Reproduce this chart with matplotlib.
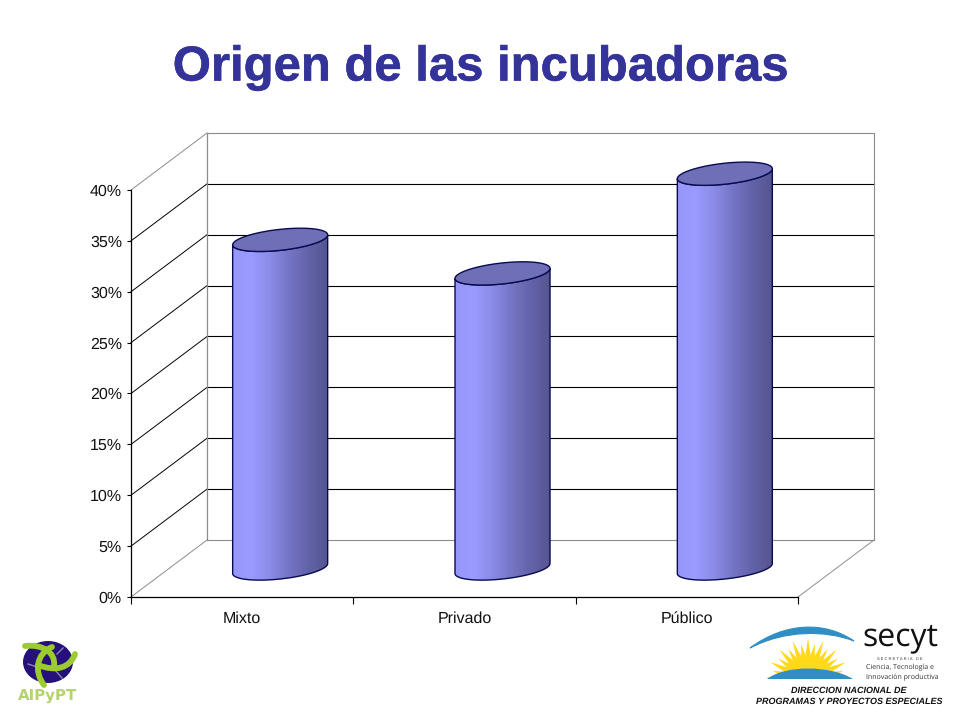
import numpy as np
import matplotlib
matplotlib.use('Agg')
import matplotlib.pyplot as plt
import matplotlib.patheffects as pe
from matplotlib.colors import LinearSegmentedColormap
from matplotlib.patches import Ellipse, Polygon, PathPatch
from matplotlib.path import Path

categories = ['Mixto', 'Privado', 'Público']
values = [32.3, 29.0, 38.8]
y_ticks = [0, 5, 10, 15, 20, 25, 30, 35, 40]
y_labels = ['0%', '5%', '10%', '15%', '20%', '25%', '30%', '35%', '40%']

plt.rcParams['text.hinting'] = 'no_hinting'
plt.rcParams['text.hinting_factor'] = 1

W, H = 960, 720
FONT = 'Liberation Sans'
TITLE_COLOR = '#333399'

fig = plt.figure(figsize=(W / 100, H / 100), dpi=100, facecolor='white')

# page level axes in pixels, for title and logos
page = fig.add_axes([0, 0, 1, 1])
page.set_xlim(0, W)
page.set_ylim(H, 0)
page.axis('off')

page.text(480.5, 68, 'Origen de las incubadoras', ha='center', va='center',
          family=FONT, weight='bold', size=35.3, color=TITLE_COLOR,
          path_effects=[pe.withStroke(linewidth=0.4, foreground=TITLE_COLOR)])

# chart axes sit on the front plane of the fake 3d box
left, right, top, bottom = 131, 798, 190, 597
ax = fig.add_axes([left / W, 1 - bottom / H, (right - left) / W, (bottom - top) / H])
ax.patch.set_alpha(0)
ax.set_xlim(0, 3)
ax.set_ylim(0, 40)

# depth of the box in data units
dx = 76 / ((right - left) / 3)
dy = 57 / ((bottom - top) / 40)

for s in ['top', 'right']:
    ax.spines[s].set_visible(False)
for s in ['left', 'bottom']:
    ax.spines[s].set_linewidth(0.9)
    ax.spines[s].set_color('black')

ax.set_yticks(y_ticks)
ax.set_yticklabels(y_labels, family=FONT, size=11.6, color='#111111')
ax.set_xticks([0, 1, 2, 3])
ax.set_xticklabels([])
ax.tick_params(axis='y', length=3, width=0.8, pad=3.5)
ax.tick_params(axis='x', length=5, width=0.8)
for i, c in enumerate(categories):
    ax.annotate(c, (i + 0.5, 0), xytext=(0, -10.2), textcoords='offset points',
                ha='center', va='top', family=FONT, size=11.6, color='#111111')

# walls and floor
GRAY = '#8c8c8c'
for v in y_ticks:
    edge = v in (0, 40)
    col = GRAY if edge else 'black'
    ax.plot([0, dx], [v, v + dy], color=col, lw=0.7, clip_on=False, zorder=1)
    ax.plot([dx, 3 + dx], [v + dy, v + dy], color=col, lw=0.8,
            clip_on=False, zorder=1)
ax.plot([dx, dx], [dy, 40 + dy], color=GRAY, lw=0.9, clip_on=False, zorder=1)
ax.plot([3 + dx, 3 + dx], [dy, 40 + dy], color=GRAY, lw=0.8, clip_on=False, zorder=1)
ax.plot([3, 3 + dx], [0, dy], color=GRAY, lw=0.7, clip_on=False, zorder=1)

# cylinders
cyl_cmap = LinearSegmentedColormap.from_list(
    'cyl', ['#9797fb', '#9a9aff', '#8a8ae6', '#7474c4', '#6262a8', '#555590'])
half_w = 47.5 / ((right - left) / 3)
skew = 5 / ((bottom - top) / 40)
minor = 10.5 / ((bottom - top) / 40)
t = np.linspace(0, 2 * np.pi, 121)
ramp = np.linspace(0, 1, 256).reshape(1, -1)


def rim(cx, cy, tt):
    return np.column_stack([cx + half_w * np.cos(tt),
                            cy + skew * np.cos(tt) + minor * np.sin(tt)])


for i, v in enumerate(values):
    cx = i + 0.5 + dx / 2
    base = dy / 2
    lower = t[:61] + np.pi
    front_top = rim(cx, base + v, lower)
    front_bot = rim(cx, base, lower)
    body = np.vstack([front_top, front_bot[::-1]])
    im = ax.imshow(ramp, cmap=cyl_cmap, aspect='auto', zorder=3,
                   extent=[cx - half_w, cx + half_w, base - minor - skew, base + v + minor])
    poly = Polygon(body, closed=True, fc='none', ec='#0a0a50', lw=1.0, zorder=4, clip_on=False)
    ax.add_patch(poly)
    # the cylinder top goes above the axes box, so only clip to the body
    im.set_clip_box(fig.bbox)
    im.set_clip_path(poly)
    ax.add_patch(Polygon(rim(cx, base + v, t), closed=True, fc='#6f6fb8', ec='#0a0a50',
                         lw=1.0, zorder=5, clip_on=False))
ax.set_xlim(0, 3)
ax.set_ylim(0, 40)

# AIPyPT logo
GREEN = '#9ccb2f'
page.add_patch(Ellipse((48, 662), 50, 42, fc='#26107a', ec='none', zorder=2))
for a, b in [((28, 664), (40, 668)), ((57, 654), (63, 648)), ((55, 670), (62, 678))]:
    page.plot([a[0], b[0]], [a[1], b[1]], color='#8a86b5', lw=1, zorder=3)
arc1 = Path([(25, 646), (42, 644), (56, 652), (54, 666)],
            [Path.MOVETO, Path.CURVE4, Path.CURVE4, Path.CURVE4])
arc2 = Path([(52, 647), (36, 654), (34, 672), (44, 685)],
            [Path.MOVETO, Path.CURVE4, Path.CURVE4, Path.CURVE4])
arc3 = Path([(75, 654), (70, 668), (56, 672), (38, 665)],
            [Path.MOVETO, Path.CURVE4, Path.CURVE4, Path.CURVE4])
for p in [arc1, arc2, arc3]:
    page.add_patch(PathPatch(p, fc='none', ec=GREEN, lw=4.2, capstyle='round', zorder=4))
page.text(48, 696.5, 'AIPyPT', ha='center', va='center', family='DejaVu Sans',
          weight='bold', size=11, color='#b4d36c')

# secyt logo
BLUE = '#2f8fc4'
swoosh = Path([(750, 648), (785, 622), (825, 621), (854, 641), (825, 630), (785, 630), (750, 648)],
              [Path.MOVETO, Path.CURVE4, Path.CURVE4, Path.CURVE4,
               Path.CURVE4, Path.CURVE4, Path.CURVE4])
page.add_patch(PathPatch(swoosh, fc=BLUE, ec=BLUE, lw=0.8, zorder=2))
sun_c = (808, 680)
for ang in np.linspace(np.pi * 1.02, np.pi * 1.98, 17):
    tip = 42 if int(round((ang - np.pi * 1.02) / (np.pi * 0.06))) % 2 == 0 else 37
    perp = ang + np.pi / 2
    p0 = (sun_c[0] + 12 * np.cos(ang) - 4.5 * np.cos(perp), sun_c[1] + 12 * np.sin(ang) - 4.5 * np.sin(perp))
    p1 = (sun_c[0] + 12 * np.cos(ang) + 4.5 * np.cos(perp), sun_c[1] + 12 * np.sin(ang) + 4.5 * np.sin(perp))
    p2 = (sun_c[0] + tip * np.cos(ang), sun_c[1] + tip * np.sin(ang))
    page.add_patch(Polygon([p0, p1, p2], closed=True, fc='#ffd91a', ec='none', zorder=2))
page.add_patch(Ellipse(sun_c, 50, 44, fc='#ffd91a', ec='none', zorder=2))
dome = Path([(767, 679), (785, 665), (830, 665), (853, 679), (767, 679)],
            [Path.MOVETO, Path.CURVE4, Path.CURVE4, Path.CURVE4, Path.CLOSEPOLY])
page.add_patch(PathPatch(dome, fc=BLUE, ec='none', zorder=3))
# hide the lower half of the sun under the dome line
page.add_patch(Polygon([(760, 679), (860, 679), (860, 706), (760, 706)], fc='white', ec='none', zorder=3))

page.text(900.5, 637, 'secyt', ha='center', va='center', family='Open Sans',
          size=23, color='#111111', zorder=4)
page.text(900, 659, 'S E C R E T A R I A   D E', ha='center', va='center', family=FONT,
          size=3.2, color='#333333', zorder=4)
page.text(866, 667.5, 'Ciencia, Tecnología e', ha='left', va='center', family='Open Sans',
          size=5.3, color='#333333', zorder=4)
page.text(866, 677, 'Innovación productiva', ha='left', va='center', family='Open Sans',
          size=5.3, color='#333333', zorder=4)
page.text(849, 691, 'DIRECCION NACIONAL DE', ha='center', va='center', family=FONT,
          weight='bold', style='italic', size=6.6, color='#111111', zorder=4)
page.text(849, 702, 'PROGRAMAS Y PROYECTOS ESPECIALES', ha='center', va='center', family=FONT,
          weight='bold', style='italic', size=6.3, color='#111111', zorder=4)

fig.savefig('out.png', dpi=100)
